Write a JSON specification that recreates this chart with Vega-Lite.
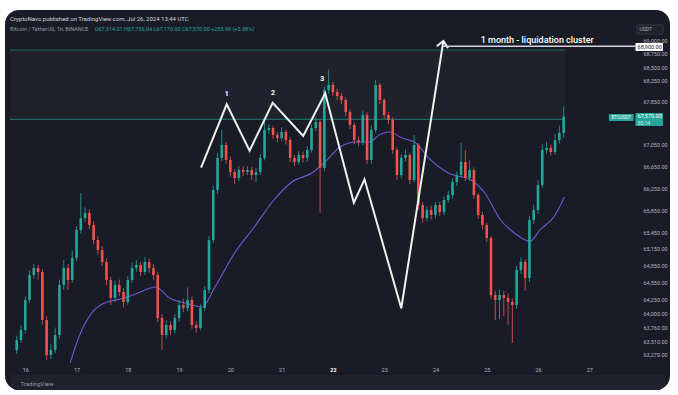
{
  "$schema": "https://vega.github.io/schema/vega-lite/v6.json",
  "width": 665,
  "height": 380,
  "autosize": {"type": "none"},
  "padding": {"left": 5, "top": 10, "right": 8, "bottom": 5},
  "background": "#ffffff",
  "config": {
    "view": {"fill": "#191c26", "stroke": null, "cornerRadius": 14},
    "font": "Roboto",
    "axis": {"domain": false, "ticks": false, "grid": false, "labelFont": "Roboto", "labelColor": "#b2b5be", "labelFontSize": 5.5}
  },
  "title": {
    "text": "CryptoNavo published on TradingView.com, Jul 26, 2024 13:44 UTC",
    "subtitle": "Bitcoin / TetherUS, 1h, BINANCE",
    "anchor": "start",
    "frame": "group",
    "offset": -22,
    "dx": 5,
    "font": "Roboto",
    "fontSize": 6,
    "fontWeight": "normal",
    "color": "#d1d4dc",
    "subtitleFont": "Roboto",
    "subtitleFontSize": 5.5,
    "subtitleColor": "#9598a1",
    "subtitlePadding": 5
  },
  "data": {"values": [{"k": "annotation"}]},
  "datasets": {
    "candles": [
      {"t":-4,"o":63358,"h":63610,"l":63290,"c":63533},
      {"t":-2,"o":63533,"h":63790,"l":63480,"c":63708},
      {"t":0,"o":63708,"h":64300,"l":63650,"c":64237},
      {"t":2,"o":64237,"h":64760,"l":64180,"c":64682},
      {"t":4,"o":64682,"h":64880,"l":64620,"c":64807},
      {"t":6,"o":64807,"h":64860,"l":64600,"c":64735},
      {"t":8,"o":64735,"h":64790,"l":63800,"c":63884},
      {"t":10,"o":63884,"h":63950,"l":63180,"c":63270},
      {"t":12,"o":63270,"h":63460,"l":63200,"c":63358},
      {"t":14,"o":63358,"h":63750,"l":63300,"c":63620},
      {"t":16,"o":63620,"h":64600,"l":63560,"c":64504},
      {"t":18,"o":64504,"h":64950,"l":64420,"c":64807},
      {"t":20,"o":64807,"h":64880,"l":64420,"c":64593},
      {"t":22,"o":64593,"h":65120,"l":64540,"c":64986},
      {"t":24,"o":64986,"h":65560,"l":64930,"c":65490},
      {"t":26,"o":65490,"h":66160,"l":65430,"c":65707},
      {"t":28,"o":65707,"h":65900,"l":65640,"c":65797},
      {"t":30,"o":65797,"h":65860,"l":65500,"c":65580},
      {"t":32,"o":65580,"h":65650,"l":65230,"c":65309},
      {"t":34,"o":65309,"h":65380,"l":65050,"c":65130},
      {"t":36,"o":65130,"h":65200,"l":64840,"c":64914},
      {"t":38,"o":64914,"h":64980,"l":64500,"c":64593},
      {"t":40,"o":64593,"h":64650,"l":64150,"c":64273},
      {"t":42,"o":64273,"h":64580,"l":64200,"c":64504},
      {"t":44,"o":64504,"h":64600,"l":64300,"c":64379},
      {"t":46,"o":64379,"h":64450,"l":64100,"c":64202},
      {"t":48,"o":64202,"h":64660,"l":64150,"c":64593},
      {"t":50,"o":64593,"h":64900,"l":64540,"c":64807},
      {"t":52,"o":64807,"h":64950,"l":64740,"c":64861},
      {"t":54,"o":64861,"h":64920,"l":64660,"c":64735},
      {"t":56,"o":64735,"h":65000,"l":64680,"c":64914},
      {"t":58,"o":64914,"h":64980,"l":64720,"c":64807},
      {"t":60,"o":64807,"h":64880,"l":64600,"c":64682},
      {"t":62,"o":64682,"h":64740,"l":63850,"c":63919},
      {"t":64,"o":63919,"h":63990,"l":63360,"c":63620},
      {"t":66,"o":63620,"h":63880,"l":63560,"c":63796},
      {"t":68,"o":63796,"h":63860,"l":63620,"c":63708},
      {"t":70,"o":63708,"h":63990,"l":63650,"c":63919},
      {"t":72,"o":63919,"h":64230,"l":63860,"c":64149},
      {"t":74,"o":64149,"h":64260,"l":64020,"c":64096},
      {"t":76,"o":64096,"h":64460,"l":64040,"c":64237},
      {"t":78,"o":64237,"h":64300,"l":63730,"c":63796},
      {"t":80,"o":63796,"h":63860,"l":63660,"c":63743},
      {"t":82,"o":63743,"h":64160,"l":63700,"c":64096},
      {"t":84,"o":64096,"h":64480,"l":64040,"c":64415},
      {"t":86,"o":64415,"h":65380,"l":64360,"c":65309},
      {"t":88,"o":65309,"h":66300,"l":65250,"c":66216},
      {"t":90,"o":66216,"h":66900,"l":66150,"c":66804},
      {"t":92,"o":66804,"h":67320,"l":66750,"c":67043},
      {"t":94,"o":67043,"h":67100,"l":66700,"c":66767},
      {"t":96,"o":66767,"h":66830,"l":66460,"c":66546},
      {"t":98,"o":66546,"h":66600,"l":66330,"c":66436},
      {"t":100,"o":66436,"h":66650,"l":66380,"c":66583},
      {"t":102,"o":66583,"h":66660,"l":66470,"c":66546},
      {"t":104,"o":66546,"h":66650,"l":66490,"c":66583},
      {"t":106,"o":66583,"h":66640,"l":66400,"c":66491},
      {"t":108,"o":66491,"h":66620,"l":66350,"c":66546},
      {"t":110,"o":66546,"h":66880,"l":66490,"c":66804},
      {"t":112,"o":66804,"h":67470,"l":66760,"c":67321},
      {"t":114,"o":67321,"h":67430,"l":67250,"c":67358},
      {"t":116,"o":67358,"h":67400,"l":67150,"c":67228},
      {"t":118,"o":67228,"h":67290,"l":67090,"c":67173},
      {"t":120,"o":67173,"h":67370,"l":67110,"c":67284},
      {"t":122,"o":67284,"h":67330,"l":67050,"c":67136},
      {"t":124,"o":67136,"h":67180,"l":66730,"c":66804},
      {"t":126,"o":66804,"h":66860,"l":66650,"c":66730},
      {"t":128,"o":66730,"h":66930,"l":66680,"c":66859},
      {"t":130,"o":66859,"h":66920,"l":66720,"c":66804},
      {"t":132,"o":66804,"h":67020,"l":66740,"c":66951},
      {"t":134,"o":66951,"h":67420,"l":66900,"c":67358},
      {"t":136,"o":67358,"h":67560,"l":67300,"c":67470},
      {"t":138,"o":67470,"h":67520,"l":65800,"c":66620},
      {"t":140,"o":66620,"h":68130,"l":66560,"c":68068},
      {"t":142,"o":68068,"h":68450,"l":68000,"c":68162},
      {"t":144,"o":68162,"h":68220,"l":67960,"c":68030},
      {"t":146,"o":68030,"h":68090,"l":67880,"c":67955},
      {"t":148,"o":67955,"h":68010,"l":67800,"c":67881},
      {"t":150,"o":67881,"h":67930,"l":67580,"c":67656},
      {"t":152,"o":67656,"h":67700,"l":67340,"c":67414},
      {"t":154,"o":67414,"h":67460,"l":67060,"c":67136},
      {"t":156,"o":67136,"h":67200,"l":67020,"c":67099},
      {"t":158,"o":67099,"h":67680,"l":67040,"c":67600},
      {"t":160,"o":67600,"h":67650,"l":66690,"c":66767},
      {"t":162,"o":66767,"h":67400,"l":66700,"c":67321},
      {"t":164,"o":67321,"h":68256,"l":67270,"c":68162},
      {"t":166,"o":68162,"h":68200,"l":67800,"c":67881},
      {"t":168,"o":67881,"h":67920,"l":67530,"c":67600},
      {"t":170,"o":67600,"h":67660,"l":67430,"c":67507},
      {"t":172,"o":67507,"h":67560,"l":66880,"c":66951},
      {"t":174,"o":66951,"h":67000,"l":66400,"c":66491},
      {"t":176,"o":66491,"h":66870,"l":66430,"c":66804},
      {"t":178,"o":66804,"h":66960,"l":66740,"c":66859},
      {"t":180,"o":66859,"h":66900,"l":66320,"c":66399},
      {"t":182,"o":66399,"h":67228,"l":66350,"c":67043},
      {"t":184,"o":67043,"h":67080,"l":65860,"c":65943},
      {"t":186,"o":65943,"h":66000,"l":65620,"c":65707},
      {"t":188,"o":65707,"h":65920,"l":65650,"c":65852},
      {"t":190,"o":65852,"h":65930,"l":65680,"c":65761},
      {"t":192,"o":65761,"h":66000,"l":65700,"c":65943},
      {"t":194,"o":65943,"h":66000,"l":65740,"c":65816},
      {"t":196,"o":65816,"h":66100,"l":65760,"c":66034},
      {"t":198,"o":66034,"h":66200,"l":65980,"c":66125},
      {"t":200,"o":66125,"h":66430,"l":66060,"c":66362},
      {"t":202,"o":66362,"h":66560,"l":66300,"c":66491},
      {"t":204,"o":66491,"h":67080,"l":66440,"c":66730},
      {"t":206,"o":66730,"h":66951,"l":66380,"c":66436},
      {"t":208,"o":66436,"h":66760,"l":66380,"c":66583},
      {"t":210,"o":66583,"h":66630,"l":66050,"c":66125},
      {"t":212,"o":66125,"h":66170,"l":65690,"c":65761},
      {"t":214,"o":65761,"h":65820,"l":65500,"c":65580},
      {"t":216,"o":65580,"h":65620,"l":65270,"c":65345},
      {"t":218,"o":65345,"h":65380,"l":64250,"c":64326},
      {"t":220,"o":64326,"h":64400,"l":63880,"c":64237},
      {"t":222,"o":64237,"h":64420,"l":63900,"c":64326},
      {"t":224,"o":64326,"h":64400,"l":63950,"c":64273},
      {"t":226,"o":64273,"h":64350,"l":63800,"c":64202},
      {"t":228,"o":64202,"h":64260,"l":63480,"c":64149},
      {"t":230,"o":64149,"h":64850,"l":64080,"c":64771},
      {"t":232,"o":64771,"h":65000,"l":64700,"c":64914},
      {"t":234,"o":64914,"h":64960,"l":64400,"c":64629},
      {"t":236,"o":64629,"h":65740,"l":64560,"c":65671},
      {"t":238,"o":65671,"h":65950,"l":65600,"c":65852},
      {"t":240,"o":65852,"h":66400,"l":65780,"c":66308},
      {"t":242,"o":66308,"h":67060,"l":66250,"c":66951},
      {"t":244,"o":66951,"h":67100,"l":66880,"c":66988},
      {"t":246,"o":66988,"h":67050,"l":66850,"c":66914},
      {"t":248,"o":66914,"h":67250,"l":66860,"c":67136},
      {"t":250,"o":67136,"h":67400,"l":67070,"c":67265},
      {"t":252,"o":67265,"h":67756,"l":67170,"c":67570}
    ],
    "ma": [
      {"t":21.0,"p":63131},{"t":25.1,"p":63585},{"t":31.1,"p":64008},{"t":37.1,"p":64184},
      {"t":40.3,"p":64220},{"t":46.3,"p":64273},{"t":52.8,"p":64362},{"t":61.1,"p":64469},
      {"t":67.5,"p":64273},{"t":74.9,"p":64184},{"t":82.8,"p":64114},{"t":88.8,"p":64469},
      {"t":98.0,"p":65076},{"t":107.2,"p":65544},{"t":116.4,"p":66034},{"t":124.2,"p":66345},
      {"t":134.9,"p":66546},{"t":141.3,"p":66767},{"t":147.3,"p":67006},{"t":155.1,"p":67099},
      {"t":161.1,"p":67099},{"t":165.7,"p":67228},{"t":170.3,"p":67284},{"t":176.3,"p":67173},
      {"t":182.8,"p":67080},{"t":188.8,"p":66804},{"t":198.0,"p":66528},{"t":208.6,"p":66399},
      {"t":215.1,"p":66161},{"t":222.5,"p":65671},{"t":228.9,"p":65436},{"t":236.3,"p":65285},
      {"t":240.9,"p":65490},{"t":247.4,"p":65725},{"t":252.4,"p":66089}
    ],
    "zig": [
      {"i":0,"t":82.3,"p":66625},{"i":1,"t":94.3,"p":67800},{"i":2,"t":105.0,"p":66938},
      {"i":3,"t":115.8,"p":67830},{"i":4,"t":130.1,"p":67210},{"i":5,"t":140.4,"p":68006},
      {"i":6,"t":153.8,"p":65985},{"i":7,"t":158.8,"p":66412},{"i":8,"t":176.0,"p":64091},
      {"i":9,"t":195.7,"p":68994}
    ],
    "peaks": [
      {"k":"1","t":94.3,"p":67993},{"k":"2","t":116.0,"p":68012},{"k":"3","t":139.0,"p":68275}
    ]
  },
  "layer": [
    {
      "mark": {"type": "rect", "fill": "#1f222c", "cornerRadiusBottomLeft": 14, "cornerRadiusBottomRight": 14},
      "encoding": {
        "x": {"datum": -7.146, "type": "quantitative"},
        "x2": {"datum": 299.45},
        "y": {"datum": 62922, "type": "quantitative"},
        "y2": {"datum": 62662}
      }
    },
    {
      "mark": {"type": "rect", "fill": "#ffffff", "opacity": 0.028},
      "encoding": {
        "x": {"datum": -7.146, "type": "quantitative"},
        "x2": {"datum": 252.6},
        "y": {"datum": 68823, "type": "quantitative"},
        "y2": {"datum": 67520}
      }
    },
    {
      "mark": {"type": "rule", "color": "#26a69a", "opacity": 0.55, "strokeWidth": 1.2},
      "encoding": {
        "x": {"datum": -7.146, "type": "quantitative"},
        "x2": {"datum": 252.6},
        "y": {"datum": 68823, "type": "quantitative"}
      }
    },
    {
      "mark": {"type": "rule", "color": "#26a69a", "opacity": 0.55, "strokeWidth": 1.2},
      "encoding": {
        "x": {"datum": -7.146, "type": "quantitative"},
        "x2": {"datum": 252.6},
        "y": {"datum": 67520, "type": "quantitative"}
      }
    },
    {
      "data": {"name": "ma"},
      "mark": {"type": "line", "color": "#6e5ad6", "strokeWidth": 1.1, "interpolate": "monotone"},
      "encoding": {
        "x": {"field": "t", "type": "quantitative"},
        "y": {"field": "p", "type": "quantitative"}
      }
    },
    {
      "data": {"name": "candles"},
      "mark": {"type": "rule", "strokeWidth": 0.8},
      "encoding": {
        "x": {"field": "t", "type": "quantitative", "scale": {"domain": [-7.146, 299.45], "nice": false, "zero": false},
          "axis": {"orient": "bottom", "offset": -25, "zindex": 1, "labelPadding": 2,
            "values": [0, 24, 48, 72, 96, 120, 144, 168, 192, 216, 240, 264],
            "labelExpr": "'' + round(16 + datum.value / 24)",
            "labelColor": {"condition": {"test": "datum.value == 144", "value": "#ffffff"}, "value": "#b2b5be"},
            "labelFontWeight": {"condition": {"test": "datum.value == 144", "value": "bold"}, "value": "normal"},
            "title": "TradingView", "titleX": 15, "titleY": 18, "titleAlign": "left", "titleBaseline": "middle",
            "titleFontSize": 6, "titleFontWeight": "normal", "titleColor": "#9598a1", "titleFont": "Roboto"}},
        "y": {"field": "l", "type": "quantitative", "scale": {"type": "log", "domain": [62662, 69587], "nice": false},
          "axis": {"orient": "right", "offset": -30, "labelPadding": 3, "labelAlign": "left", "format": ",.2f",
            "values": [69000, 68750, 68500, 68250, 67850, 67050, 66650, 66250, 65850, 65450, 65150, 64850, 64550, 64250, 64000, 63760, 63510, 63270],
            "title": null}},
        "y2": {"field": "h"},
        "color": {"condition": {"test": "datum.c >= datum.o", "value": "#26a69a"}, "value": "#ef5350"}
      }
    },
    {
      "data": {"name": "candles"},
      "mark": {"type": "bar", "size": 2.6},
      "encoding": {
        "x": {"field": "t", "type": "quantitative"},
        "y": {"field": "o", "type": "quantitative"},
        "y2": {"field": "c"},
        "color": {"condition": {"test": "datum.c >= datum.o", "value": "#26a69a"}, "value": "#ef5350"}
      }
    },
    {
      "data": {"name": "zig"},
      "mark": {"type": "line", "color": "#f0f0f0", "strokeWidth": 2},
      "encoding": {
        "x": {"field": "t", "type": "quantitative"},
        "y": {"field": "p", "type": "quantitative"},
        "order": {"field": "i"}
      }
    },
    {
      "mark": {"type": "point", "shape": "M-1,1.1L0,0L1,1.1", "filled": false, "stroke": "#f0f0f0", "strokeWidth": 2, "size": 130, "angle": 9, "opacity": 1},
      "encoding": {
        "x": {"datum": 195.7, "type": "quantitative"},
        "y": {"datum": 68994, "type": "quantitative"}
      }
    },
    {
      "mark": {"type": "rule", "color": "#d1d4dc", "strokeWidth": 1.5},
      "encoding": {
        "x": {"datum": 195.7, "type": "quantitative"},
        "x2": {"datum": 285.6},
        "y": {"datum": 68895, "type": "quantitative"}
      }
    },
    {
      "mark": {"type": "text", "text": "1 month - liquidation cluster", "align": "left", "baseline": "middle", "fill": "#ffffff", "fontSize": 9, "fontWeight": 500, "font": "Roboto"},
      "encoding": {
        "x": {"datum": 213.2, "type": "quantitative"},
        "y": {"datum": 69013, "type": "quantitative"}
      }
    },
    {
      "data": {"name": "peaks"},
      "mark": {"type": "text", "align": "center", "baseline": "middle", "fill": "#ffffff", "fontSize": 7, "fontWeight": "bold", "font": "Roboto"},
      "encoding": {
        "x": {"field": "t", "type": "quantitative"},
        "y": {"field": "p", "type": "quantitative"},
        "text": {"field": "k"}
      }
    },
    {
      "mark": {"type": "rect", "fill": "#ffffff", "cornerRadius": 1},
      "encoding": {
        "x": {"datum": 285.6, "type": "quantitative"},
        "x2": {"datum": 298.5},
        "y": {"datum": 68956, "type": "quantitative"},
        "y2": {"datum": 68805}
      }
    },
    {
      "mark": {"type": "text", "text": "68,900.00", "align": "left", "baseline": "middle", "fill": "#131722", "fontSize": 5.5, "font": "Roboto"},
      "encoding": {
        "x": {"datum": 286.6, "type": "quantitative"},
        "y": {"datum": 68880, "type": "quantitative"}
      }
    },
    {
      "mark": {"type": "rect", "fill": "#26a69a", "cornerRadius": 1},
      "encoding": {
        "x": {"datum": 285.6, "type": "quantitative"},
        "x2": {"datum": 298.5},
        "y": {"datum": 67640, "type": "quantitative"},
        "y2": {"datum": 67395}
      }
    },
    {
      "mark": {"type": "text", "text": "67,570.00", "align": "left", "baseline": "middle", "fill": "#ffffff", "fontSize": 5.5, "font": "Roboto"},
      "encoding": {
        "x": {"datum": 286.6, "type": "quantitative"},
        "y": {"datum": 67575, "type": "quantitative"}
      }
    },
    {
      "mark": {"type": "text", "text": "55:14", "align": "left", "baseline": "middle", "fill": "#d8f0ec", "fontSize": 5, "font": "Roboto"},
      "encoding": {
        "x": {"datum": 286.6, "type": "quantitative"},
        "y": {"datum": 67460, "type": "quantitative"}
      }
    },
    {
      "mark": {"type": "rect", "fill": "#26a69a", "cornerRadius": 1},
      "encoding": {
        "x": {"datum": 273.2, "type": "quantitative"},
        "x2": {"datum": 284.8},
        "y": {"datum": 67619, "type": "quantitative"},
        "y2": {"datum": 67488}
      }
    },
    {
      "mark": {"type": "text", "text": "BTCUSDT", "align": "center", "baseline": "middle", "fill": "#ffffff", "fontSize": 4.5, "font": "Roboto"},
      "encoding": {
        "x": {"datum": 279, "type": "quantitative"},
        "y": {"datum": 67553, "type": "quantitative"}
      }
    },
    {
      "mark": {"type": "rect", "fill": "#1e222d", "stroke": "#434651", "strokeWidth": 0.6, "cornerRadius": 1},
      "encoding": {
        "x": {"datum": 286.3, "type": "quantitative"},
        "x2": {"datum": 298.5},
        "y": {"datum": 69300, "type": "quantitative"},
        "y2": {"datum": 69128}
      }
    },
    {
      "mark": {"type": "text", "text": "USDT", "align": "left", "baseline": "middle", "fill": "#b2b5be", "fontSize": 5, "font": "Roboto"},
      "encoding": {
        "x": {"datum": 287.5, "type": "quantitative"},
        "y": {"datum": 69214, "type": "quantitative"}
      }
    },
    {
      "mark": {"type": "text", "text": "O67,314.01  H67,756.04  L67,170.00  C67,570.00  +255.99 (+0.38%)", "align": "left", "baseline": "middle", "fill": "#26a69a", "fontSize": 5.5, "font": "Roboto"},
      "encoding": {
        "x": {"datum": 32.5, "type": "quantitative"},
        "y": {"datum": 69224, "type": "quantitative"}
      }
    }
  ]
}
